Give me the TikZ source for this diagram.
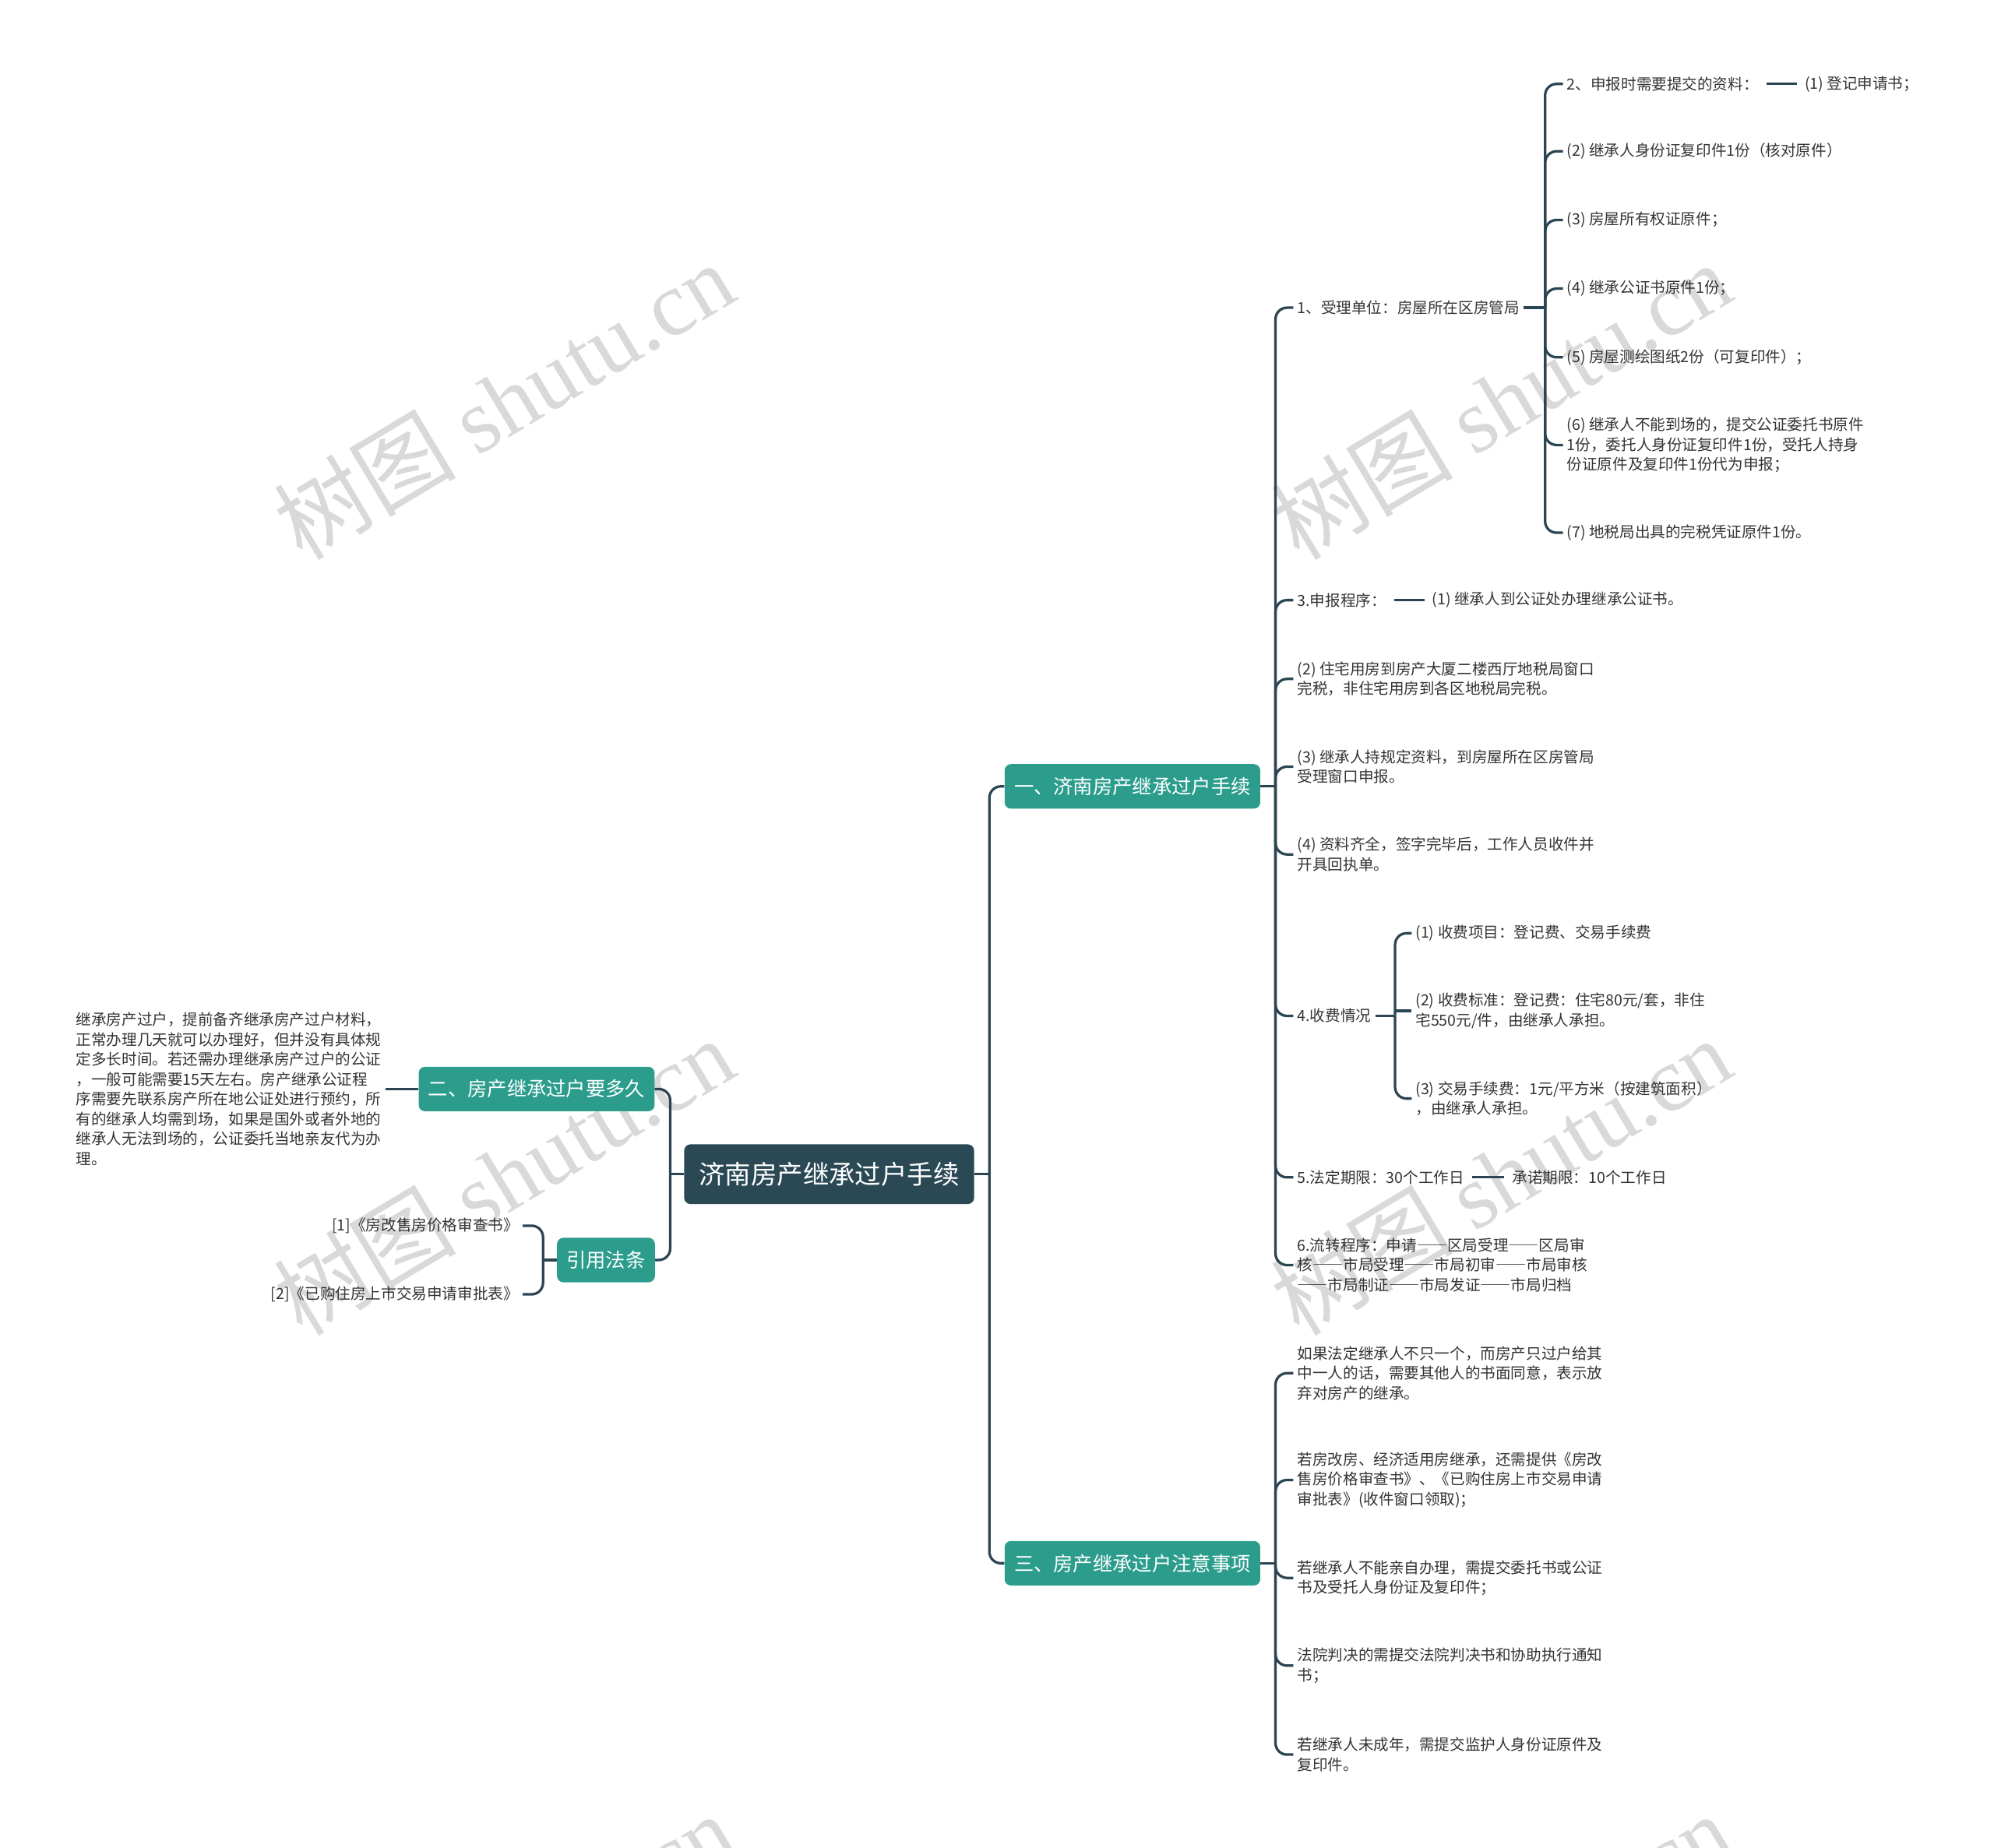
\documentclass[tikz,border=0pt]{standalone}
\usepackage{fontspec}
\setmainfont{Noto Sans CJK SC}
\newfontfamily\wmcjk{Noto Sans CJK SC}
\newfontfamily\wmlat{Liberation Serif}
\newfontfamily\fwfont[RawFeature=+fwid]{Noto Sans CJK SC}
\newcommand\fwdash{{\fwfont ——}}
\definecolor{rootc}{HTML}{2A4955}
\definecolor{tealc}{HTML}{2C9D8D}
\definecolor{linec}{HTML}{2B4553}
\definecolor{txtc}{HTML}{333333}
\definecolor{wmc}{HTML}{D9D9D9}
\begin{document}
\begin{tikzpicture}[x=1pt,y=-1pt,
  conn/.style={draw=linec, line width=2pt, rounded corners=9pt},
  rootbox/.style={fill=rootc, rounded corners=5pt, text=white, font=\fontsize{20.5}{24}\selectfont, minimum width=228pt, minimum height=47pt, inner sep=0pt},
  branchbox/.style={fill=tealc, rounded corners=5pt, text=white, font=\fontsize{15.5}{18}\selectfont, minimum height=35pt, inner xsep=7.5pt, inner ysep=0pt},
  leaf/.style={font=\fontsize{12}{15.6}\selectfont, align=left, inner sep=3pt, text=txtc},
  wm/.style={text=wmc, rotate=31, inner sep=0pt}]
\useasboundingbox (0,0) rectangle (1568,1453);
\clip (0,0) rectangle (1568,1453);
% watermarks
\foreach \wx/\wy [count=\i] in {396/315,1180/315,396/925,1180/925,396/1535,1180/1535}{
  \node[wm] (wm\i) at (\wx,\wy) {\fontsize{72}{78}\selectfont\wmcjk 树图 \wmlat shutu.cn};
}
% root and branches
\node[rootbox] (root) at (652,923.5) {济南房产继承过户手续};
\node[branchbox] (b1) at (890.5,618.5) {一、济南房产继承过户手续};
\node[branchbox] (b3) at (890.5,1229.5) {三、房产继承过户注意事项};
\node[branchbox] (b2) at (422,856.5) {二、房产继承过户要多久};
\node[branchbox] (law) at (476.5,991) {引用法条};
\coordinate (jR) at (778,923.5);
\coordinate (jL) at (527,923.5);
\draw[conn] (root.east) -- (jR);
\draw[conn] (jR) |- (b1.west);
\draw[conn] (jR) |- (b3.west);
\draw[conn] (root.west) -- (jL);
\draw[conn] (jL) |- (b2.east);
\draw[conn] (jL) |- (law.east);
% left side
\node[leaf, anchor=east] (t2) at (303,856.5) {继承房产过户，提前备齐继承房产过户材料，\\正常办理几天就可以办理好，但并没有具体规\\定多长时间。若还需办理继承房产过户的公证\\，一般可能需要15天左右。房产继承公证程\\序需要先联系房产所在地公证处进行预约，所\\有的继承人均需到场，如果是国外或者外地的\\继承人无法到场的，公证委托当地亲友代为办\\理。};
\draw[conn] (b2.west) -- (t2.east);
\node[leaf, anchor=east] (l1) at (411,964) {[1]《房改售房价格审查书》};
\node[leaf, anchor=east] (l2) at (411,1018) {[2]《已购住房上市交易申请审批表》};
\coordinate (jl) at (427,991);
\draw[conn] (law.west) -- (jl);
\draw[conn] (jl) |- (l1.east);
\draw[conn] (jl) |- (l2.east);
% branch 1 children
\coordinate (j1) at (1003,618.5);
\draw[conn] (b1.east) -- (j1);
\node[leaf, anchor=west] (c1) at (1017,242) {1、受理单位：房屋所在区房管局};
\node[leaf, anchor=west] (c3) at (1017,472) {3.申报程序：};
\node[leaf, anchor=west] (c3a) at (1123,472) {(1) 继承人到公证处办理继承公证书。};
\node[leaf, anchor=west] (c3b) at (1017,534) {(2) 住宅用房到房产大厦二楼西厅地税局窗口\\完税，非住宅用房到各区地税局完税。};
\node[leaf, anchor=west] (c3c) at (1017,603) {(3) 继承人持规定资料，到房屋所在区房管局\\受理窗口申报。};
\node[leaf, anchor=west] (c3d) at (1017,672) {(4) 资料齐全，签字完毕后，工作人员收件并\\开具回执单。};
\node[leaf, anchor=west] (c4) at (1017,799) {4.收费情况};
\node[leaf, anchor=west] (c5) at (1017,926) {5.法定期限：30个工作日};
\node[leaf, anchor=west] (c5a) at (1186,926) {承诺期限：10个工作日};
\node[leaf, anchor=west] (c6) at (1017,995) {6.流转程序：申请\fwdash 区局受理\fwdash 区局审\\核\fwdash 市局受理\fwdash 市局初审\fwdash 市局审核\\\fwdash 市局制证\fwdash 市局发证\fwdash 市局归档};
\foreach \c in {c1,c3,c3b,c3c,c3d,c4,c5,c6}{
  \draw[conn] (j1) |- (\c.west);
}
\draw[conn,shorten <=3pt,shorten >=3pt] (c3.east) -- (c3a.west);
\draw[conn,shorten <=3pt,shorten >=3pt] (c5.east) -- (c5a.west);
% sub of c1
\coordinate (jc1) at (1215,242);
\draw[conn] (c1.east) -- (jc1);
\node[leaf, anchor=west] (d2) at (1229,66) {2、申报时需要提交的资料：};
\node[leaf, anchor=west] (d2a) at (1416,66) {(1) 登记申请书；};
\node[leaf, anchor=west] (d2b) at (1229,119) {(2) 继承人身份证复印件1份（核对原件）};
\node[leaf, anchor=west] (d3) at (1229,173) {(3) 房屋所有权证原件；};
\node[leaf, anchor=west] (d4) at (1229,227) {(4) 继承公证书原件1份；};
\node[leaf, anchor=west] (d5) at (1229,281) {(5) 房屋测绘图纸2份（可复印件）；};
\node[leaf, anchor=west] (d6) at (1229,350) {(6) 继承人不能到场的，提交公证委托书原件\\1份，委托人身份证复印件1份，受托人持身\\份证原件及复印件1份代为申报；};
\node[leaf, anchor=west] (d7) at (1229,419) {(7) 地税局出具的完税凭证原件1份。};
\foreach \d in {d2,d2b,d3,d4,d5,d6,d7}{
  \draw[conn] (jc1) |- (\d.west);
}
\draw[conn,shorten <=3pt,shorten >=3pt] (d2.east) -- (d2a.west);
% sub of c4
\coordinate (j4) at (1097,799);
\draw[conn] (c4.east) -- (j4);
\node[leaf, anchor=west] (c4a) at (1110,734) {(1) 收费项目：登记费、交易手续费};
\node[leaf, anchor=west] (c4b) at (1110,795) {(2) 收费标准：登记费：住宅80元/套，非住\\宅550元/件，由继承人承担。};
\node[leaf, anchor=west] (c4c) at (1110,864) {(3) 交易手续费：1元/平方米（按建筑面积）\\，由继承人承担。};
\draw[conn] (j4) |- (c4a.west);
\draw[conn] (j4) |- (c4c.west);
\draw[conn] (j4 |- c4b.west) -- (c4b.west);
% branch 3 children
\coordinate (j3) at (1003,1229.5);
\draw[conn] (b3.east) -- (j3);
\node[leaf, anchor=west] (e1) at (1017,1080) {如果法定继承人不只一个，而房产只过户给其\\中一人的话，需要其他人的书面同意，表示放\\弃对房产的继承。};
\node[leaf, anchor=west] (e2) at (1017,1164) {若房改房、经济适用房继承，还需提供《房改\\售房价格审查书》、《已购住房上市交易申请\\审批表》(收件窗口领取)；};
\node[leaf, anchor=west] (e3) at (1017,1241) {若继承人不能亲自办理，需提交委托书或公证\\书及受托人身份证及复印件；};
\node[leaf, anchor=west] (e4) at (1017,1310) {法院判决的需提交法院判决书和协助执行通知\\书；};
\node[leaf, anchor=west] (e5) at (1017,1380) {若继承人未成年，需提交监护人身份证原件及\\复印件。};
\foreach \e in {e1,e2,e3,e4,e5}{
  \draw[conn] (j3) |- (\e.west);
}
\end{tikzpicture}
\end{document}
